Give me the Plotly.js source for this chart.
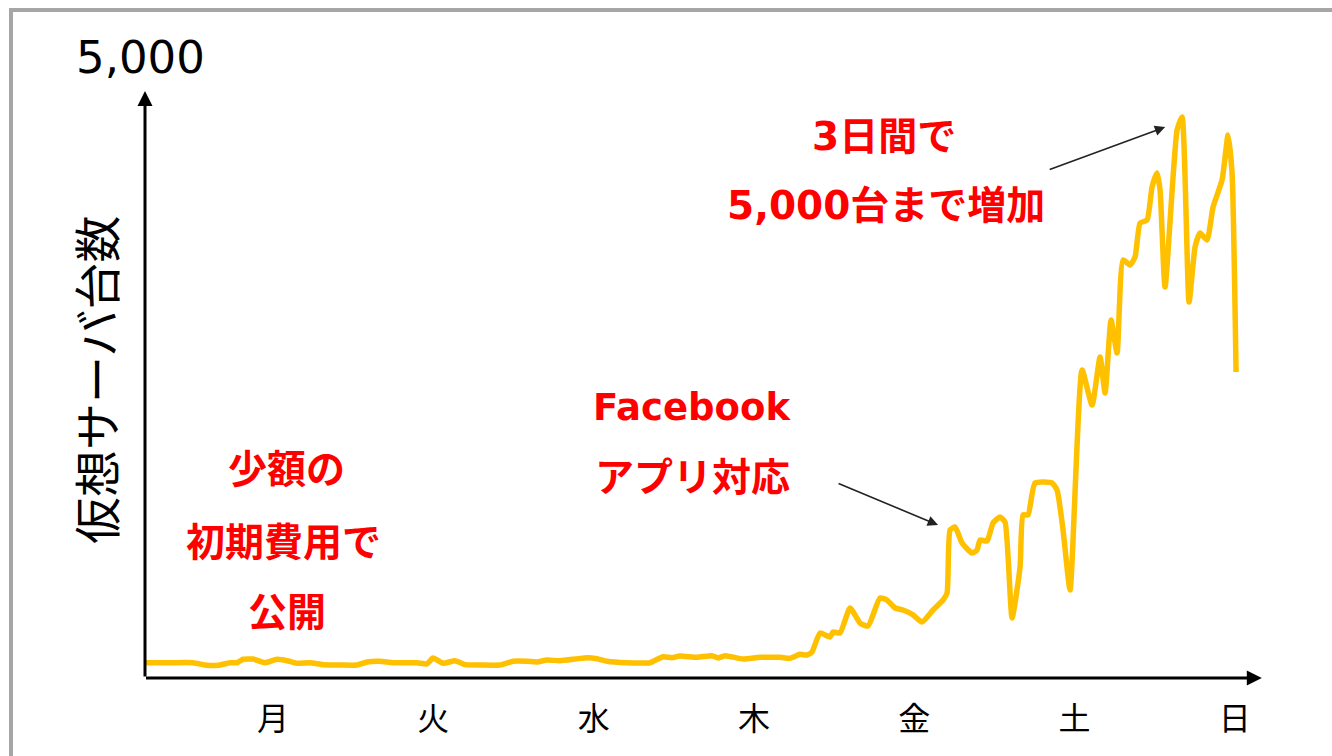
<!DOCTYPE html>
<html>
<head>
<meta charset="utf-8">
<script src="https://cdn.plot.ly/plotly-3.0.1.min.js"></script>
<style>html,body{margin:0;padding:0;background:#fff;}#chart{width:1332px;height:756px;}</style>
</head>
<body>
<div id="chart"></div>
<script>
// x: day position (月=1 ... 日=7), y: number of virtual servers
var dayPos = [1, 2, 3, 4, 5, 6, 7];
var dayLabels = ["月", "火", "水", "木", "金", "土", "日"];
var yAxisTop = 5000;
var xValues = [0.2015,0.3575,0.5009,0.5883,0.6569,0.7318,0.7754,0.8129,0.8752,0.9501,1.0250,1.0873,1.1497,1.2308,1.3119,1.4179,1.5240,1.5864,1.6675,1.7486,1.8983,1.9607,1.9981,2.0605,2.1354,2.1977,2.2913,2.4161,2.4972,2.5845,2.6469,2.7093,2.7904,2.9588,3.0212,3.0836,3.2084,3.3518,3.4329,3.4891,3.5390,3.6450,3.7386,3.7760,3.8197,3.9320,4.0380,4.1628,4.2252,4.2876,4.3312,4.3624,4.4123,4.4747,4.4934,4.5371,4.5995,4.6619,4.7118,4.7866,4.8303,4.8802,4.9301,4.9925,5.0487,5.1173,5.1797,5.2047,5.2234,5.2546,5.2982,5.3606,5.3918,5.4105,5.4542,5.4916,5.5353,5.5665,5.6102,5.6601,5.6788,5.7100,5.7536,5.8597,5.8908,5.9283,5.9719,6.0468,6.1092,6.1591,6.1903,6.2277,6.2651,6.3026,6.3462,6.3774,6.4086,6.4523,6.4834,6.5146,6.5334,6.5645,6.6394,6.6706,6.7143,6.7517,6.7829,6.8266,6.8640,6.9202,6.9576,6.9825,7.0075];
var servers = [136,136,136,113,113,136,136,167,169,136,167,154,131,136,119,116,116,143,149,136,136,125,178,131,154,119,116,116,149,149,143,160,154,181,172,149,136,136,190,181,196,184,199,178,199,169,184,184,176,211,205,232,401,365,410,401,624,490,463,713,695,624,606,562,499,606,695,758,1319,1346,1203,1114,1141,1230,1221,1382,1435,1390,535,989,1453,1453,1738,1738,1676,1319,784,2745,2433,2861,2540,3191,2897,3726,3681,3752,4055,4082,4376,4501,4350,3485,4884,5000,3351,3842,3966,3904,4198,4439,4840,4501,2727];
var yTitle = "仮想サーバ台数";
var noteLeft = ["少額の", "初期費用で", "公開"];
var noteMid = ["Facebook", "アプリ対応"];
var noteRight = ["3日間で", "5,000台まで増加"];

var X0 = 0.2015, X1 = 7.188, YMAX = 5241;
var red = "#FF0000";
function note(t, px, py, size) {
  return {text: "<b>" + t + "</b>", xref: "paper", yref: "paper",
    x: (px - 145) / 1120, y: (678 - py) / 588, showarrow: false,
    xanchor: "center", yanchor: "middle",
    font: {family: "DejaVu Sans, Noto Sans CJK JP, sans-serif", size: size || 39, color: red, weight: "bold"}};
}
var annotations = [
  // y axis arrow
  {x: X0, y: YMAX - 10, ax: X0, ay: 0, xref: "x", yref: "y", axref: "x", ayref: "y",
   showarrow: true, arrowhead: 2, arrowsize: 1, arrowwidth: 3, arrowcolor: "#000", text: ""},
  // x axis arrow
  {x: X1 - 0.02, y: 0, ax: X0 - 0.003, ay: 0, xref: "x", yref: "y", axref: "x", ayref: "y",
   showarrow: true, arrowhead: 2, arrowsize: 1, arrowwidth: 3, arrowcolor: "#000", text: ""},
  {text: "5,000", xref: "paper", yref: "paper", x: (140 - 145) / 1120, y: (678 - 58) / 588,
   showarrow: false, xanchor: "center", yanchor: "middle",
   font: {family: "DejaVu Sans, sans-serif", size: 45, color: "#000"}},
  {text: yTitle, xref: "paper", yref: "paper", x: (94 - 145) / 1120, y: (678 - 380) / 588,
   showarrow: false, textangle: -90, xanchor: "center", yanchor: "middle",
   font: {family: "Noto Sans CJK JP, sans-serif", size: 47, color: "#000"}},
  note(noteLeft[0], 286, 469), note(noteLeft[1], 283, 542), note(noteLeft[2], 287, 612),
  note(noteMid[0], 692, 407, 37), note(noteMid[1], 692, 477),
  note(noteRight[0], 884, 136), note(noteRight[1], 886, 205),
  // pointer arrows
  {x: 5.1485, y: 1364, ax: -101, ay: -42, xref: "x", yref: "y", showarrow: true,
   arrowhead: 2, arrowsize: 1.3, arrowwidth: 1.6, arrowcolor: "#222", text: ""},
  {x: 6.5655, y: 4911, ax: -117, ay: 43, xref: "x", yref: "y", showarrow: true,
   arrowhead: 2, arrowsize: 1.3, arrowwidth: 1.6, arrowcolor: "#222", text: ""}
];

var trace = {x: xValues, y: servers, type: "scatter", mode: "lines",
  line: {color: "#FFC000", width: 5.5, shape: "spline", smoothing: 0.5},
  hoverinfo: "skip"};

var layout = {
  width: 1332, height: 756,
  margin: {l: 145, r: 67, t: 90, b: 78},
  paper_bgcolor: "#fff", plot_bgcolor: "rgba(0,0,0,0)",
  showlegend: false,
  xaxis: {range: [X0, X1], showgrid: false, zeroline: false, showline: false,
    tickmode: "array", tickvals: dayPos, ticktext: dayLabels,
    ticks: "outside", ticklen: 13, tickcolor: "rgba(0,0,0,0)",
    tickfont: {family: "Noto Sans CJK JP, sans-serif", size: 32, color: "#000"}},
  yaxis: {range: [0, YMAX], showgrid: false, zeroline: false, showline: false,
    showticklabels: false, ticks: ""},
  shapes: [{type: "rect", xref: "paper", yref: "paper",
    x0: (11 - 145) / 1120, x1: 1.3, y0: -0.3, y1: (678 - 10) / 588,
    line: {color: "#A6A6A6", width: 4}, fillcolor: "rgba(0,0,0,0)", layer: "below"}],
  annotations: annotations
};
Plotly.newPlot("chart", [trace], layout, {staticPlot: true, displayModeBar: false});
</script>
</body>
</html>
